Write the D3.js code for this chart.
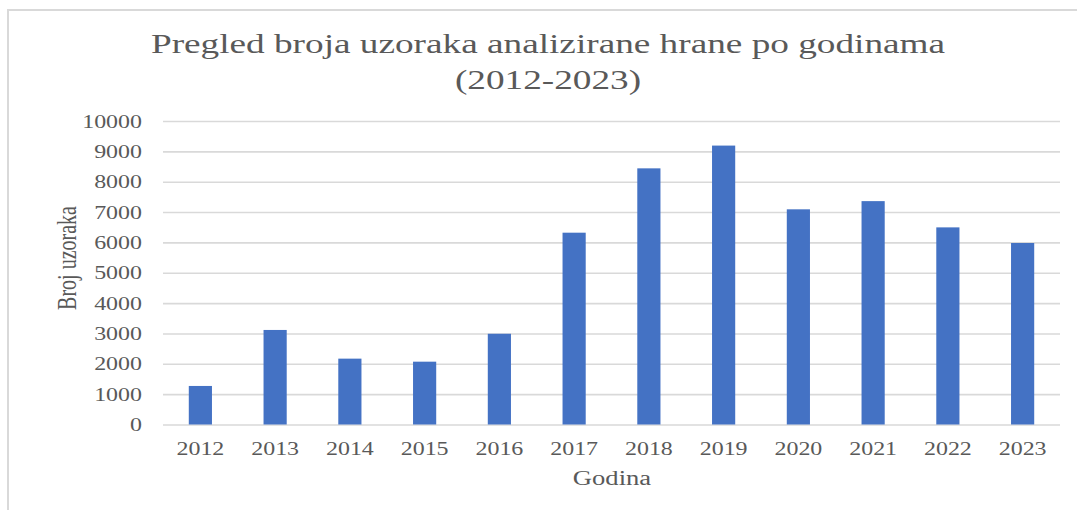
<!DOCTYPE html>
<html>
<head>
<meta charset="utf-8">
<script src="https://cdn.jsdelivr.net/npm/d3@7"></script>
<style>
  html, body { margin: 0; padding: 0; background: #fff; }
  svg { display: block; }
  text { font-family: "Liberation Serif", "Times New Roman", serif; fill: #595959; }
</style>
</head>
<body>
<svg id="chart" width="1077" height="510"></svg>
<script>
const years = ["2012","2013","2014","2015","2016","2017","2018","2019","2020","2021","2022","2023"];
const samples = [1270, 3115, 2170, 2070, 2990, 6320, 8440, 9190, 7090, 7360, 6495, 5980];
const yTicks = [0,1000,2000,3000,4000,5000,6000,7000,8000,9000,10000];
const titleLines = ["Pregled broja uzoraka analizirane hrane po godinama", "(2012-2023)"];
const xTitle = "Godina";
const yTitle = "Broj uzoraka";

const SX = 1.33; // horizontal stretch of the reference text
const svg = d3.select("#chart");

// frame (only top and left edges visible)
svg.append("path")
  .attr("d", "M8,510 L8,10 L1077,10")
  .attr("fill", "none").attr("stroke", "#d9d9d9").attr("stroke-width", 2);

const x = d3.scaleBand().domain(years).range([163, 1060]).paddingInner(0.69).paddingOuter(0.345);
const y = d3.scaleLinear().domain([0, 10000]).range([424.5, 121]);

// gridlines
const grid = svg.append("g")
  .attr("transform", "translate(163,0)")
  .call(d3.axisLeft(y).tickValues(yTicks).tickSize(-(1060 - 163)).tickFormat(""));
grid.select(".domain").remove();
grid.selectAll(".tick line").attr("stroke", "#d9d9d9").attr("stroke-width", 1.6);

// y tick labels
const yAx = svg.append("g")
  .attr("transform", "translate(142,0)")
  .call(d3.axisLeft(y).tickValues(yTicks).tickSize(0).tickPadding(0).tickFormat(d3.format("d")));
yAx.select(".domain").remove();
yAx.selectAll("text").attr("font-size", 18).attr("fill", "#595959")
  .attr("font-family", "Liberation Serif").attr("dy", "0.34em");

// bars
svg.append("g").selectAll("rect").data(years).join("rect")
  .attr("x", d => x(d))
  .attr("width", x.bandwidth())
  .attr("y", (d, i) => y(samples[i]))
  .attr("height", (d, i) => y(0) - y(samples[i]))
  .attr("fill", "#4472C4");

// x tick labels
const xAx = svg.append("g")
  .attr("transform", "translate(0,424.5)")
  .call(d3.axisBottom(x).tickSize(0).tickPadding(0));
xAx.select(".domain").remove();
xAx.selectAll("text").attr("font-size", 18).attr("fill", "#595959")
  .attr("font-family", "Liberation Serif").attr("dy", null).attr("y", 30);

// titles
const title = svg.append("text").attr("text-anchor", "middle").attr("font-size", 28);
title.selectAll("tspan").data(titleLines).join("tspan")
  .attr("x", 548).attr("y", (d, i) => 53 + i * 36).text(d => d);

svg.append("text").attr("class", "stretch").attr("text-anchor", "middle")
  .attr("x", 612).attr("y", 485).attr("font-size", 20).text(xTitle);

svg.append("text").attr("text-anchor", "middle").attr("font-size", 20)
  .attr("transform", "translate(76,258) scale(" + SX + ",1) rotate(-90)")
  .text(yTitle);

// horizontal stretch for horizontal texts
function stretch(sel) {
  sel.each(function() {
    const len = this.getComputedTextLength();
    d3.select(this).attr("textLength", len * SX).attr("lengthAdjust", "spacingAndGlyphs");
  });
}
stretch(yAx.selectAll("text"));
stretch(xAx.selectAll("text"));
stretch(svg.selectAll("text.stretch"));
stretch(title.selectAll("tspan"));
</script>
</body>
</html>
